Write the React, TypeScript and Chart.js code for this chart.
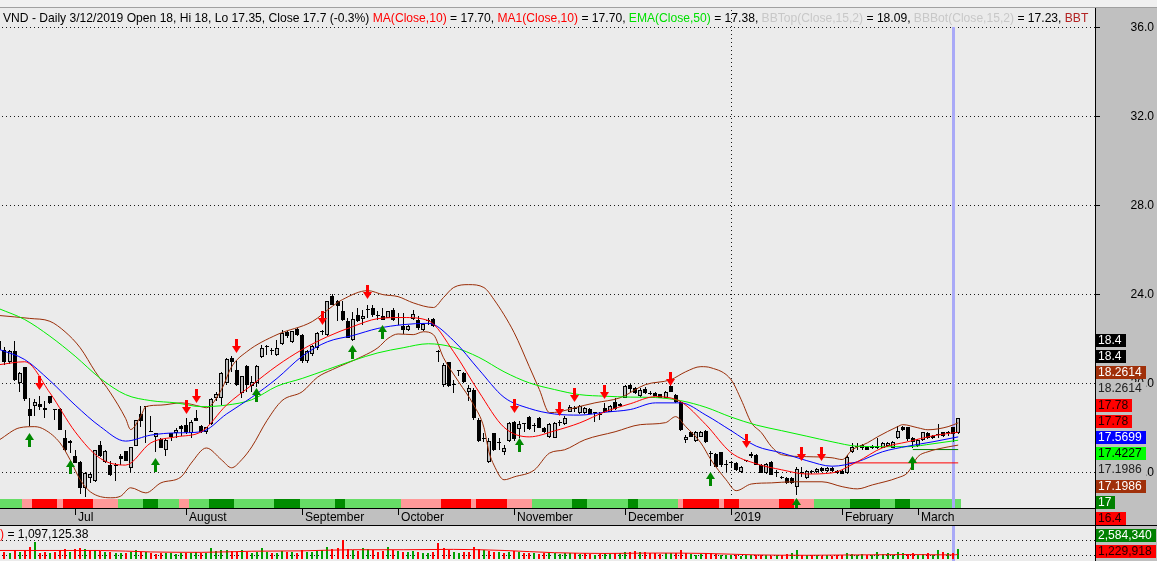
import React, { useEffect, useRef } from "react";
import { Chart, registerables } from "chart.js";
Chart.register(...registerables);

// ---------------- DATA ----------------
// bar 0 = 2018-06-11 ... bar 190 = 2019-03-13 (daily, HOSE trading days)
const opens = [
  21.9, 21.5, 20.92, 21.42, 19.99, 20.7, 18.83, 18.94, 19.04, 18.85,
  19.4, 18.76, 18.83, 17.5, 17.38, 16.71, 16.45, 15.28, 15.74, 15.6,
  17.2, 16.42, 16.32, 16.28, 16.72, 16.93, 16.16, 17.18, 18.6, 18.9,
  17.8, 17.58, 17.48, 16.98, 17.73, 17.73, 18.05, 18.1, 17.73, 18.4,
  18.04, 17.8, 18.13, 19.3, 19.31, 20.0, 21.1, 20.6, 19.54, 20.77,
  19.87, 19.99, 21.16, 21.6, 21.42, 21.27, 21.75, 22.29, 21.84, 22.42,
  22.17, 20.97, 21.31, 21.57, 22.27, 22.17, 23.93, 23.67, 23.22, 22.8,
  21.94, 23.07, 22.88, 23.3, 23.37, 23.0, 23.0, 22.92, 23.3, 22.92,
  22.55, 22.4, 22.88, 22.85, 22.4, 22.8, 22.88, 21.45, 19.92, 20.94,
  19.92, 20.54, 20.44, 19.6, 19.69, 18.34, 17.48, 16.43, 17.74, 17.3,
  16.87, 17.39, 18.26, 17.93, 18.14, 18.46, 18.04, 18.41, 17.96, 17.58,
  17.51, 18.19, 18.14, 18.71, 18.82, 18.64, 18.64, 18.82, 18.64, 18.56,
  18.86, 18.71, 19.16, 19.06, 19.31, 19.91, 19.76, 19.39, 19.72, 19.56,
  19.54, 19.49, 19.31, 19.84, 19.46, 19.16, 17.44, 17.81, 17.39, 17.58,
  17.85, 16.8, 16.8, 16.87, 16.33, 16.43, 16.38, 16.0, 16.5, 16.78,
  16.76, 16.31, 15.96, 16.46, 15.93, 15.78, 15.71, 15.71, 15.3, 15.96,
  15.71, 16.01, 15.98, 16.16, 16.04, 16.16, 16.04, 16.04, 15.93, 16.91,
  17.13, 17.06, 17.13, 17.16, 17.16, 17.09, 17.16, 17.09, 17.51, 18.0,
  18.0, 17.51, 17.16, 17.44, 17.74, 17.62, 17.66, 17.77, 17.8, 18.0,
  17.74,
];
const highs = [
  22.0, 21.6, 21.5, 21.9, 20.5, 20.72, 19.3, 19.27, 19.4, 19.2,
  19.42, 18.78, 18.85, 17.9, 17.42, 17.0, 16.5, 16.0, 16.0, 17.0,
  17.4, 17.0, 16.5, 16.4, 16.78, 16.95, 17.1, 18.35, 18.95, 18.95,
  18.5, 17.75, 17.5, 17.5, 17.75, 17.95, 18.1, 18.4, 18.35, 18.8,
  18.1, 18.0, 19.3, 19.6, 20.5, 21.1, 21.2, 21.0, 20.3, 20.8,
  20.3, 20.8, 21.7, 21.72, 21.57, 21.94, 22.4, 22.35, 22.35, 22.45,
  22.2, 21.5, 21.7, 22.3, 22.4, 23.7, 24.0, 23.75, 23.7, 22.9,
  23.2, 23.35, 23.3, 23.52, 23.5, 23.22, 23.37, 23.25, 23.35, 23.15,
  23.15, 22.6, 23.3, 23.0, 22.7, 22.92, 22.9, 21.5, 20.9, 20.95,
  20.14, 20.55, 20.5, 19.9, 19.75, 18.4, 17.73, 17.5, 17.75, 17.5,
  17.2, 18.25, 18.3, 18.3, 18.15, 18.5, 18.19, 18.45, 18.0, 18.2,
  18.25, 18.34, 18.5, 19.0, 18.97, 19.0, 18.9, 18.85, 18.7, 18.7,
  19.09, 19.0, 19.3, 19.1, 19.9, 19.95, 19.8, 19.75, 19.8, 19.62,
  19.6, 19.5, 19.65, 19.95, 19.5, 19.2, 17.65, 17.85, 17.85, 17.85,
  17.9, 16.95, 16.85, 16.9, 16.53, 16.48, 16.45, 16.28, 16.55, 16.9,
  16.8, 16.35, 16.4, 16.5, 16.08, 15.82, 15.75, 15.75, 16.23, 16.23,
  16.1, 16.1, 16.16, 16.2, 16.2, 16.2, 16.08, 16.06, 16.75, 17.31,
  17.28, 17.25, 17.18, 17.2, 17.51, 17.35, 17.35, 17.4, 18.04, 18.05,
  18.02, 17.55, 17.48, 17.8, 17.78, 17.66, 18.16, 17.8, 17.82, 18.0,
  18.4,
];
const lows = [
  20.8, 20.8, 20.85, 20.1, 19.6, 19.2, 18.04, 18.5, 18.8, 18.4,
  19.05, 18.34, 17.9, 16.95, 16.84, 16.4, 15.0, 14.87, 15.5, 15.55,
  16.68, 16.4, 15.8, 15.6, 16.3, 16.5, 16.0, 17.15, 18.0, 17.3,
  17.78, 16.9, 17.05, 16.7, 17.4, 17.5, 17.6, 17.7, 17.5, 18.3,
  17.75, 17.7, 18.1, 19.2, 19.0, 19.9, 20.5, 19.85, 19.3, 19.6,
  19.6, 19.8, 21.1, 21.27, 21.27, 21.2, 21.7, 22.0, 21.8, 22.1,
  20.9, 20.9, 21.2, 21.5, 22.15, 22.1, 23.5, 22.77, 22.8, 22.0,
  21.9, 22.75, 22.6, 22.92, 22.95, 22.85, 22.85, 22.9, 22.8, 22.62,
  22.2, 22.35, 22.85, 22.4, 22.35, 22.62, 22.5, 20.95, 19.8, 19.8,
  19.54, 20.29, 20.0, 19.2, 18.35, 17.35, 17.36, 16.4, 16.95, 16.98,
  16.75, 17.35, 17.4, 17.5, 17.77, 17.9, 17.8, 17.95, 17.75, 17.5,
  17.5, 18.04, 18.1, 18.7, 18.71, 18.6, 18.6, 18.58, 18.26, 18.34,
  18.64, 18.7, 18.8, 18.9, 19.3, 19.6, 19.5, 19.35, 19.5, 19.45,
  19.4, 19.3, 19.3, 19.6, 19.1, 17.85, 17.3, 17.55, 17.35, 17.55,
  17.3, 16.25, 16.2, 16.2, 16.0, 16.16, 16.05, 15.95, 16.45, 16.6,
  16.3, 15.95, 15.9, 15.85, 15.78, 15.68, 15.45, 15.45, 14.96, 15.78,
  15.68, 15.9, 15.95, 16.0, 16.0, 16.0, 15.9, 15.88, 15.9, 16.83,
  16.98, 17.0, 16.98, 17.02, 17.04, 17.05, 17.1, 17.05, 17.48, 17.85,
  17.4, 17.06, 17.12, 17.4, 17.48, 17.48, 17.5, 17.55, 17.6, 17.35,
  17.7,
];
const closes = [
  21.5, 20.92, 21.42, 20.11, 20.44, 19.27, 18.5, 19.13, 18.9, 18.8,
  19.1, 18.76, 17.9, 16.98, 17.28, 16.41, 15.28, 15.96, 15.88, 17.0,
  16.73, 16.93, 15.86, 16.3, 16.56, 16.5, 17.1, 18.33, 18.27, 18.9,
  17.8, 17.73, 17.07, 17.43, 17.55, 17.9, 17.92, 17.77, 18.26, 18.3,
  17.8, 18.0, 19.27, 19.5, 20.44, 21.09, 20.92, 19.9, 20.29, 19.91,
  20.06, 20.77, 21.57, 21.6, 21.42, 21.57, 22.24, 22.12, 22.32, 22.17,
  20.97, 21.42, 21.64, 22.24, 22.27, 23.67, 23.52, 23.45, 22.85, 22.02,
  22.88, 22.8, 23.0, 23.3, 23.07, 23.0, 22.85, 23.22, 22.85, 22.92,
  22.4, 22.55, 23.1, 22.47, 22.65, 22.8, 22.55, 21.4, 20.82, 19.84,
  19.92, 20.54, 20.06, 19.79, 18.41, 17.39, 17.48, 17.4, 17.0, 17.3,
  17.06, 18.19, 17.46, 18.16, 18.14, 17.92, 18.04, 17.99, 17.81, 18.14,
  18.19, 18.19, 18.41, 18.91, 18.82, 18.97, 18.86, 18.61, 18.64, 18.56,
  18.71, 18.94, 18.82, 18.94, 19.87, 19.72, 19.54, 19.69, 19.54, 19.5,
  19.42, 19.31, 19.61, 19.61, 19.16, 17.89, 17.58, 17.58, 17.81, 17.81,
  17.36, 16.82, 16.23, 16.31, 16.31, 16.41, 16.08, 16.23, 16.5, 16.72,
  16.31, 15.96, 16.35, 15.86, 15.93, 15.71, 15.48, 15.48, 16.11, 15.96,
  16.05, 16.01, 16.13, 16.04, 16.16, 16.04, 15.96, 15.9, 16.68, 17.13,
  17.13, 17.21, 17.0, 17.06, 17.06, 17.31, 17.31, 17.36, 17.84, 17.89,
  17.46, 17.36, 17.44, 17.77, 17.51, 17.51, 17.66, 17.59, 17.75, 17.7,
  18.4,
];
// volume in thousands of shares
const volumesK = [
  1800, 2000, 1600, 2400, 1900, 2200, 3200, 4500, 1700, 1900,
  1500, 2000, 2400, 2600, 2000, 2700, 3000, 2800, 2100, 2500,
  2200, 2000, 1800, 1500, 1700, 1500, 1800, 2400, 2000, 1800,
  1500, 1400, 1700, 1500, 1600, 1300, 1500, 1700, 1500, 1800,
  1700, 1500, 3000, 2200, 2500, 2400, 2200, 2000, 2300, 1900,
  1700, 2000, 3100, 1900, 1600, 1700, 2200, 2000, 1900, 1700,
  2500, 2000, 1900, 2200, 2300, 3300, 2800, 3000, 5200, 2700,
  2500, 2200, 3000, 2700, 2300, 2000, 2200, 3300, 2300, 2200,
  2000, 1900, 2200, 2000, 1700, 1600, 1900, 4200, 3000, 2500,
  2000, 1700, 1900, 2000, 3300, 2700, 2300, 2200, 2000, 1900,
  1700, 2000, 2200, 1900, 1500, 1700, 1500, 1400, 1500, 1700,
  1700, 1400, 1500, 1700, 1500, 1400, 1500, 1400, 1200, 1400,
  1500, 1400, 1700, 1500, 1800, 2000, 2100, 1800, 2000, 1700,
  1500, 1400, 1700, 1500, 1700, 2300, 1700, 1400, 1200, 1400,
  1700, 1500, 1400, 1200, 1000, 1200, 1000, 900, 1000, 1200,
  1000, 1200, 1000, 900, 1000, 1200, 1300, 1500, 2400, 1200,
  1000, 1200, 1000, 900, 1000, 900, 1000, 1200, 1500, 1300,
  1200, 1300, 1200, 1000, 1900, 1300, 1500, 1200, 1900, 1500,
  1300, 1500, 1200, 1300, 1500, 1200, 2500, 1900, 1600, 1700,
  2584.34,
];
const volMaIdx = [0, 10, 20, 30, 40, 50, 60, 70, 80, 90, 100, 110, 120, 130, 140, 150, 160, 170, 180, 189, 190];
const volMaK = [2300, 2300, 2300, 1900, 1800, 2100, 2200, 2500, 2500, 2600, 2300, 1700, 1500, 1600, 1500, 1100, 1000, 1100, 1200, 1097.13, 1229.92];

// indicator lines (at these bars)
const lineIdx = [0, 5, 10, 15, 20, 25, 30, 35, 40, 45, 50, 55, 60, 65, 70, 75, 80, 85, 90, 95, 100, 105, 110, 115, 120, 125, 130, 135, 140, 145, 150, 155, 160, 165, 170, 175, 180, 185, 190];
const ma10 = [20.82, 20.95, 19.55, 17.8, 16.6, 16.3, 17.3, 17.57, 17.8, 19.0, 19.9, 20.77, 21.5, 22.08, 22.53, 22.89, 22.94, 22.8, 21.4, 19.6, 18.0, 17.57, 17.84, 18.2, 18.7, 19.06, 19.38, 19.15, 18.12, 16.86, 16.36, 16.09, 15.9, 15.95, 16.45, 17.08, 17.35, 17.62, 17.78];
const ma20 = [21.5, 21.05, 20.1, 19.0, 18.03, 17.38, 17.65, 17.75, 17.8, 18.6, 19.35, 20.2, 21.2, 21.85, 22.13, 22.45, 22.62, 22.68, 21.9, 20.6, 19.35, 18.85, 18.6, 18.55, 18.68, 18.8, 19.1, 19.1, 18.55, 17.85, 17.15, 16.85, 16.5, 16.25, 16.45, 16.9, 17.15, 17.35, 17.57];
const ema50 = [23.33, 22.85, 22.1, 21.2, 20.2, 19.47, 19.2, 19.1, 18.93, 19.0, 19.24, 19.85, 20.2, 20.6, 21.0, 21.35, 21.58, 21.76, 21.6, 21.15, 20.5, 20.0, 19.7, 19.47, 19.4, 19.36, 19.34, 19.2, 18.9, 18.46, 18.1, 17.85, 17.6, 17.35, 17.15, 17.13, 17.13, 17.26, 17.42];
const bbTopIdx = [0, 6, 10, 13, 16, 19, 22, 25, 26, 28, 29, 32, 36, 40, 41, 44, 46, 49, 55, 62, 66, 68, 73, 76, 79, 82, 86, 88, 90, 93, 96, 98, 102, 105, 107, 109, 111, 114, 118, 123, 128, 133, 136, 139, 141, 145, 147, 149, 151, 153, 155, 160, 165, 167, 169, 172, 174, 178, 179, 182, 184, 188, 190];
const bbTop = [23.03, 22.9, 22.77, 22.3, 21.58, 20.5, 19.55, 18.4, 17.9, 18.5, 18.93, 19.0, 19.1, 18.93, 18.88, 19.7, 20.72, 21.4, 22.17, 22.76, 23.45, 23.75, 24.15, 23.97, 23.88, 23.6, 23.39, 23.84, 24.29, 24.42, 24.29, 23.75, 22.26, 20.73, 19.7, 18.66, 18.7, 18.88, 19.1, 19.33, 19.92, 20.14, 20.5, 20.73, 20.68, 20.14, 19.24, 18.21, 17.76, 17.13, 16.77, 16.68, 16.63, 16.55, 16.99, 17.3, 17.57, 18.03, 18.12, 17.98, 17.89, 18.03, 18.2];
const bbBotIdx = [0, 4, 7, 9, 12, 14, 16, 18, 22, 24, 26, 29, 32, 36, 38, 41, 44, 46, 48, 50, 53, 56, 60, 63, 66, 72, 75, 77, 79, 82, 84, 86, 88, 91, 94, 96, 97, 98, 100, 102, 106, 109, 112, 116, 122, 127, 132, 134, 136, 139, 141, 144, 146, 149, 153, 157, 163, 167, 170, 173, 178, 180, 182, 184, 188, 190];
const bbBot = [17.44, 17.98, 18.03, 17.89, 17.3, 16.54, 15.64, 15.1, 14.83, 14.9, 15.28, 15.05, 15.5, 15.77, 16.39, 17.07, 16.54, 16.18, 16.54, 17.12, 18.3, 19.2, 19.6, 20.25, 20.6, 21.2, 21.58, 22.0, 22.2, 22.17, 22.3, 22.17, 21.13, 20.05, 19.0, 18.0, 16.9, 16.3, 15.64, 15.77, 16.08, 16.84, 16.99, 17.44, 17.8, 18.12, 18.21, 18.48, 18.03, 17.3, 16.54, 15.64, 15.15, 15.45, 15.5, 15.55, 15.55, 15.33, 15.23, 15.41, 15.73, 15.96, 16.68, 16.9, 17.12, 17.2];

// signals: bar index and arrow tip price
const sellBars = [8, 37, 39, 47, 64, 73, 102, 111, 114, 120, 133, 148, 159, 163];
const sellTips = [19.7, 18.61, 19.09, 21.34, 22.62, 23.79, 18.64, 18.49, 19.16, 19.27, 19.87, 17.06, 16.5, 16.5];
const buyBars = [6, 14, 31, 51, 70, 76, 103, 141, 158, 181];
const buyTips = [17.76, 16.53, 16.6, 19.77, 21.72, 22.62, 17.51, 16.01, 14.8, 16.71];

// horizontal levels
const levelValues = [17, 16.4];
const levelFrom = [181, 168];
const levelTo = [190, 190];

// signal band under the price pane (run lengths)
const bandRuns: [number, string][] = [
  [5, "LG"], [2, "PK"], [5, "RD"], [1, "PK"], [6, "RD"], [5, "PK"], [5, "LG"], [3, "DG"], [4, "LG"], [2, "PK"],
  [4, "LG"], [5, "DG"], [8, "LG"], [5, "DG"], [7, "LG"], [2, "DG"], [11, "LG"], [8, "PK"], [6, "RD"], [1, "PK"],
  [6, "RD"], [5, "PK"], [8, "LG"], [3, "DG"], [8, "LG"], [2, "DG"], [8, "LG"], [1, "PK"], [7, "RD"], [1, "PK"],
  [3, "RD"], [8, "PK"], [3, "RD"], [4, "PK"], [7, "LG"], [6, "DG"], [3, "LG"], [3, "DG"], [10, "LG"],
];

const monthLabels = ["Jul", "August", "September", "October", "November", "December", "2019", "February", "March"];
const monthBars = [15, 37, 60, 79, 102, 124, 145, 167, 182];
const yearStartBar = 145;
const selectedBar = 189;
const priceTicks = [16, 20, 24, 28, 32, 36];
const volGridK = [1000, 5000];

const lastValueNums = [18.4, 18.4, 18.2614, 18.2614, 17.78, 17.78, 17.5699, 17.4227, 17.1986, 17.1986, 17, 16.4];
const lastValueTexts = ["18.4", "18.4", "18.2614", "18.2614", "17.78", "17.78", "17.5699", "17.4227", "17.1986", "17.1986", "17", "16.4"];
const volLastNumsK = [2584.34, 1229.918];
const volLastTexts = ["2,584,340", "1,229,918"];

const titleTexts = ["VND - Daily 3/12/2019 Open 18, Hi 18, Lo 17.35, Close 17.7 (-0.3%) ", "MA(Close,10)", " = 17.70, ", "MA1(Close,10)", " = 17.70, ", "EMA(Close,50)", " = 17.38, ", "BBTop(Close,15,2)", " = 18.09, ", "BBBot(Close,15,2)", " = 17.23, ", "BBT"];
const volTitleTexts = [")", " = 1,097,125.38"];

// ---------------- STYLE ----------------
const W = 1157;
const FONT = '"Liberation Sans", Arial, Helvetica, sans-serif';
const FONT_PX = 12.1;
const TOP_BG = "#f0f0f0";
const PLOT_BG = "#ebebeb";
const AXIS_BG = "#c0c0c0";
const GRID = "#1a1a1a";
const HOLLOW = "#c0c0c0";
const BROWN = "#a0300a";
const CURSOR = "#a9a9f7";
const BAND_COLORS: Record<string, string> = { LG: "#66dd66", DG: "#008c00", PK: "#ff9999", RD: "#ff0000" };
const titleColors = ["#000", "#ff0000", "#000", "#ff0000", "#000", "#00e000", "#000", "#c8c8c8", "#000", "#c8c8c8", "#000", "#b22222"];
const volTitleColors = ["#ff0000", "#000"];
const lastValueBg = ["#000", "#000", BROWN, AXIS_BG, "#ff0000", "#ff0000", "#0000ff", "#00ff00", AXIS_BG, BROWN, "#008000", "#ff0000"];
const lastValueFg = ["#fff", "#fff", "#fff", "#202020", "#200000", "#200000", "#fff", "#000", "#202020", "#fff", "#fff", "#200000"];
const volLastBg = ["#008000", "#ff0000"];
const volLastFg = ["#fff", "#200000"];

// x range so that bar i sits at pixel -0.55 + 5.046*i inside a 1095px plot
const X_MIN = 0.109;
const X_MAX = 217.11;

function arrowImage(color: string, down: boolean) {
  const c = document.createElement("canvas");
  const w = 9, h = 14;
  c.width = w;
  c.height = h * 2 + 2;
  const g = c.getContext("2d")!;
  g.fillStyle = color;
  const tip = h + 1;
  g.beginPath();
  if (down) {
    g.fillRect(3, tip - h, 3, h - 6);
    g.moveTo(0, tip - 7); g.lineTo(w, tip - 7); g.lineTo(w / 2, tip);
  } else {
    g.fillRect(3, tip + 6, 3, h - 6);
    g.moveTo(0, tip + 7); g.lineTo(w, tip + 7); g.lineTo(w / 2, tip);
  }
  g.closePath();
  g.fill();
  return c;
}

function drawValueLabels(ctx: CanvasRenderingContext2D, yScale: any, nums: number[], texts: string[], bgs: (string | null)[], fgs: string[], left: number, paneTop: number, paneBottom: number) {
  const pitch = 16.2, boxH = 13;
  const ys = nums.map((v) => yScale.getPixelForValue(v));
  const mean = ys.reduce((a, b) => a + b, 0) / ys.length;
  const total = (nums.length - 1) * pitch + boxH;
  let top = mean - total / 2;
  if (top + total > paneBottom) top = paneBottom - total;
  if (top < paneTop) top = paneTop;
  ctx.font = `${FONT_PX}px ${FONT}`;
  ctx.textAlign = "left";
  ctx.textBaseline = "middle";
  texts.forEach((t, k) => {
    const by = Math.round(top + k * pitch);
    const w = ctx.measureText(t).width;
    if (bgs[k]) {
      ctx.fillStyle = bgs[k] as string;
      ctx.fillRect(left + 1, by, Math.round(w) + 6, boxH);
    }
    ctx.fillStyle = fgs[k];
    ctx.fillText(t, left + 3, by + boxH / 2 + 0.5);
  });
}

// snap bar / point elements to whole pixels so candles stay crisp
const pixelSnap = {
  id: "pixelSnap",
  beforeDatasetsDraw(chart: any) {
    chart.data.datasets.forEach((ds: any, di: number) => {
      const meta = chart.getDatasetMeta(di);
      if (meta.type === "bar") {
        meta.data.forEach((el: any) => {
          const thin = el.width <= 1.5;
          el.x = thin ? Math.round(el.x - 0.5) + 0.5 : Math.round(el.x);
          el.y = Math.round(el.y);
          el.base = Math.round(el.base);
          if (Math.abs(el.base - el.y) < 1) el.base = el.y + 1;
          el.height = el.base - el.y;
        });
      } else if (meta.type === "scatter") {
        meta.data.forEach((el: any) => {
          el.x = Math.round(el.x - 0.5) + 0.5;
          el.y = Math.round(el.y);
        });
      }
    });
  },
};

export default function App() {
  const mainRef = useRef<HTMLCanvasElement>(null);
  const volRef = useRef<HTMLCanvasElement>(null);

  useEffect(() => {
    document.body.style.margin = "0";
    const sellImg = arrowImage("#ff0000", true);
    const buyImg = arrowImage("#008800", false);

    const mainFrame = {
      id: "mainFrame",
      beforeDraw(chart: any) {
        const { ctx, chartArea: a, scales } = chart;
        const x = scales.x, y = scales.y;
        const H = chart.height;
        ctx.save();
        ctx.fillStyle = TOP_BG; ctx.fillRect(0, 0, W, H);
        ctx.fillStyle = PLOT_BG; ctx.fillRect(a.left, a.top, a.right - a.left, a.bottom - a.top);
        ctx.fillStyle = AXIS_BG; ctx.fillRect(a.right, a.top, W - a.right, H - a.top);
        ctx.fillRect(a.left, a.bottom, a.right - a.left, H - a.bottom);
        ctx.fillStyle = GRID;
        priceTicks.forEach((t) => {
          const py = Math.round(y.getPixelForValue(t));
          for (let px = a.left + 2; px < a.right; px += 4) ctx.fillRect(px, py, 1, 1);
        });
        const yx = Math.round(x.getPixelForValue(yearStartBar));
        for (let py = a.top + 2; py < a.bottom - 10; py += 4) ctx.fillRect(yx, py, 1, 1);
        let s = 0;
        bandRuns.forEach(([n, code]) => {
          const l = Math.round(x.getPixelForValue(s - 0.5));
          const r = Math.round(x.getPixelForValue(s + n - 0.5));
          ctx.fillStyle = BAND_COLORS[code];
          ctx.fillRect(Math.max(l, a.left), a.bottom - 9, r - Math.max(l, a.left), 9);
          s += n;
        });
        const cx = Math.round(x.getPixelForValue(selectedBar));
        const cTop = Math.round(y.getPixelForValue(36));
        ctx.fillStyle = CURSOR;
        ctx.fillRect(cx - 1, cTop, 3, a.bottom - cTop);
        ctx.restore();
      },
      afterDraw(chart: any) {
        const { ctx, chartArea: a, scales } = chart;
        const x = scales.x, y = scales.y;
        const H = chart.height;
        ctx.save();
        // title
        ctx.save();
        ctx.beginPath(); ctx.rect(0, 0, a.right, 40); ctx.clip();
        ctx.font = `${FONT_PX}px ${FONT}`;
        ctx.textAlign = "left"; ctx.textBaseline = "alphabetic";
        let tx = 3;
        titleTexts.forEach((t, k) => {
          ctx.fillStyle = titleColors[k];
          ctx.fillText(t, tx, 22);
          tx += ctx.measureText(t).width;
        });
        ctx.restore();
        // borders
        ctx.fillStyle = "#a0a0a0"; ctx.fillRect(0, a.top - 1, W, 1);
        ctx.fillStyle = "#000";
        ctx.fillRect(a.right, a.top, 1, H - a.top);
        ctx.fillRect(a.left, a.bottom, a.right - a.left, 1);
        // y ticks
        ctx.font = `${FONT_PX}px ${FONT}`;
        ctx.textAlign = "right"; ctx.textBaseline = "middle";
        priceTicks.forEach((t) => {
          const py = y.getPixelForValue(t);
          ctx.fillStyle = "#000";
          ctx.fillText(t.toFixed(1), W - 3, py + 0.5);
          ctx.fillRect(a.right, Math.round(py), 5, 1);
        });
        // last values
        drawValueLabels(ctx, y, lastValueNums, lastValueTexts, lastValueBg, lastValueFg, a.right, a.top, H);
        // x strip
        ctx.fillStyle = "#000";
        ctx.font = `${FONT_PX}px ${FONT}`;
        ctx.textAlign = "left"; ctx.textBaseline = "alphabetic";
        monthBars.forEach((b, k) => {
          const px = Math.round(x.getPixelForValue(b));
          ctx.fillRect(px, a.bottom + 1, 1, 6);
          ctx.fillText(monthLabels[k], px + 3, a.bottom + 13);
        });
        ctx.restore();
      },
    };

    const volFrame = {
      id: "volFrame",
      beforeDraw(chart: any) {
        const { ctx, chartArea: a, scales } = chart;
        const x = scales.x, y = scales.y;
        const H = chart.height;
        ctx.save();
        ctx.fillStyle = PLOT_BG; ctx.fillRect(0, 0, a.right, H);
        ctx.fillStyle = AXIS_BG; ctx.fillRect(a.right, 0, W - a.right, H);
        ctx.fillStyle = GRID;
        volGridK.forEach((v) => {
          const py = Math.round(y.getPixelForValue(v * 1000));
          for (let px = a.left + 2; px < a.right; px += 4) ctx.fillRect(px, py, 1, 1);
        });
        const cx = Math.round(x.getPixelForValue(selectedBar));
        ctx.fillStyle = CURSOR;
        ctx.fillRect(cx - 1, 0, 3, H);
        ctx.restore();
      },
      afterDraw(chart: any) {
        const { ctx, chartArea: a, scales } = chart;
        const y = scales.y;
        const H = chart.height;
        ctx.save();
        ctx.fillStyle = "#000";
        ctx.fillRect(0, 0, W, 1);
        ctx.fillRect(a.right, 0, 1, H);
        ctx.font = `${FONT_PX}px ${FONT}`;
        ctx.textAlign = "left"; ctx.textBaseline = "alphabetic";
        let tx = 0;
        volTitleTexts.forEach((t, k) => {
          ctx.fillStyle = volTitleColors[k];
          ctx.fillText(t, tx, 13);
          tx += ctx.measureText(t).width;
        });
        drawValueLabels(ctx, y, volLastNumsK.map((v) => v * 1000), volLastTexts, volLastBg, volLastFg, a.right, 1, a.bottom - 1);
        ctx.restore();
      },
    };

    const xScale = { type: "linear", min: X_MIN, max: X_MAX, display: false, offset: false };
    const bars = closes.map((_, i) => i);

    const main = new Chart(mainRef.current as HTMLCanvasElement, {
      type: "bar",
      data: {
        datasets: [
          {
            type: "scatter", order: 0, data: sellBars.map((b, k) => ({ x: b, y: sellTips[k] })),
            pointStyle: sellImg as any, pointRadius: 5,
          },
          {
            type: "scatter", order: 0, data: buyBars.map((b, k) => ({ x: b, y: buyTips[k] })),
            pointStyle: buyImg as any, pointRadius: 5,
          },
          { type: "line", order: 1, data: lineIdx.map((b, k) => ({ x: b, y: ma10[k] })), borderColor: "#ff0000", borderWidth: 1, pointRadius: 0, cubicInterpolationMode: "monotone" },
          { type: "line", order: 1, data: lineIdx.map((b, k) => ({ x: b, y: ma20[k] })), borderColor: "#0000ff", borderWidth: 1, pointRadius: 0, cubicInterpolationMode: "monotone" },
          { type: "line", order: 1, data: lineIdx.map((b, k) => ({ x: b, y: ema50[k] })), borderColor: "#00f000", borderWidth: 1, pointRadius: 0, cubicInterpolationMode: "monotone" },
          { type: "line", order: 1, data: bbTopIdx.map((b, k) => ({ x: b, y: bbTop[k] })), borderColor: "#9a2e08", borderWidth: 1, pointRadius: 0, cubicInterpolationMode: "monotone" },
          { type: "line", order: 1, data: bbBotIdx.map((b, k) => ({ x: b, y: bbBot[k] })), borderColor: "#9a2e08", borderWidth: 1, pointRadius: 0, cubicInterpolationMode: "monotone" },
          { type: "line", order: 1, data: [{ x: levelFrom[0], y: levelValues[0] }, { x: levelTo[0], y: levelValues[0] }], borderColor: "#008000", borderWidth: 1, pointRadius: 0 },
          { type: "line", order: 1, data: [{ x: levelFrom[1], y: levelValues[1] }, { x: levelTo[1], y: levelValues[1] }], borderColor: "#ff0000", borderWidth: 1, pointRadius: 0 },
          {
            type: "bar", order: 2,
            data: bars.map((i) => ({ x: i, y: [opens[i], closes[i]] })),
            backgroundColor: bars.map((i) => (closes[i] >= opens[i] ? HOLLOW : "#000")),
            borderColor: "#000", borderWidth: 1, borderSkipped: false,
            barThickness: 4, grouped: false, minBarLength: 1, inflateAmount: 0,
          } as any,
          {
            type: "bar", order: 3,
            data: bars.map((i) => ({ x: i, y: [lows[i], highs[i]] })),
            backgroundColor: "#000", borderWidth: 0,
            barThickness: 1, grouped: false, minBarLength: 1, inflateAmount: 0,
          } as any,
        ],
      },
      options: {
        responsive: false,
        animation: false,
        devicePixelRatio: 1,
        events: [],
        layout: { autoPadding: false, padding: { top: 8, bottom: 17, left: 0, right: 0 } },
        plugins: { legend: { display: false }, tooltip: { enabled: false } },
        scales: {
          x: xScale as any,
          y: {
            type: "linear", position: "right", min: 14.37, max: 36.867,
            grid: { display: false }, border: { display: false }, ticks: { display: false },
            afterFit: (s: any) => { s.width = 62; },
          },
        },
      },
      plugins: [mainFrame, pixelSnap],
    } as any);

    const vol = new Chart(volRef.current as HTMLCanvasElement, {
      type: "bar",
      data: {
        datasets: [
          { type: "line", order: 0, data: volMaIdx.map((b, k) => ({ x: b, y: volMaK[k] * 1000 })), borderColor: "#ff0000", borderWidth: 1, pointRadius: 0, cubicInterpolationMode: "monotone" },
          {
            type: "bar", order: 1,
            data: bars.map((i) => ({ x: i, y: volumesK[i] * 1000 })),
            backgroundColor: bars.map((i) => (closes[i] >= (i > 0 ? closes[i - 1] : opens[i]) ? "#00a000" : "#ff0000")),
            borderWidth: 0, barThickness: 2, grouped: false, inflateAmount: 0,
          } as any,
        ],
      },
      options: {
        responsive: false,
        animation: false,
        devicePixelRatio: 1,
        events: [],
        layout: { autoPadding: false, padding: { top: 1, bottom: 2, left: 0, right: 0 } },
        plugins: { legend: { display: false }, tooltip: { enabled: false } },
        scales: {
          x: xScale as any,
          y: {
            type: "linear", position: "right", min: 0, max: 8910000,
            grid: { display: false }, border: { display: false }, ticks: { display: false },
            afterFit: (s: any) => { s.width = 62; },
          },
        },
      },
      plugins: [volFrame, pixelSnap],
    } as any);

    return () => { main.destroy(); vol.destroy(); };
  }, []);

  return (
    <div style={{ position: "relative", width: 1157, height: 561, overflow: "hidden", background: TOP_BG }}>
      <canvas ref={mainRef} width={1157} height={525} style={{ position: "absolute", left: 0, top: 0, width: 1157, height: 525 }} />
      <canvas ref={volRef} width={1157} height={36} style={{ position: "absolute", left: 0, top: 525, width: 1157, height: 36 }} />
    </div>
  );
}
